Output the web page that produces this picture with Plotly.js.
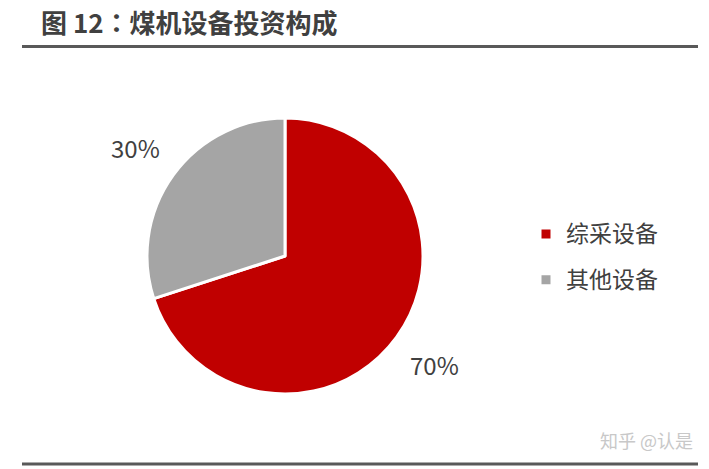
<!DOCTYPE html>
<html>
<head>
<meta charset="utf-8">
<script src="https://cdn.plot.ly/plotly-3.0.1.min.js"></script>
<style>html,body{margin:0;padding:0;background:#fff;}#chart{width:709px;height:469px;}</style>
</head>
<body>
<div id="chart"></div>
<script>
var categories = ["综采设备", "其他设备"];
var shares = [70, 30];
var sliceColors = ["#C00000", "#A5A5A5"];
var titleParts = ["图 12", "：", "煤机设备投资构成"];
var watermark = "知乎 @认是";

var FONT = "'Noto Sans CJK SC', 'Microsoft YaHei', sans-serif";

var legendLabels = categories.map(function (c) {
  return '<span style="font-size:23px;baseline-shift:5px">' + c + '</span>';
});

// pie geometry (paper fractions)
var dom = { x: [147 / 709, 423 / 709], y: [(469 - 394) / 469, (469 - 118) / 469] };

var trace = {
  type: "pie",
  labels: legendLabels,
  values: shares,
  sort: false,
  direction: "clockwise",
  rotation: 0,
  marker: { colors: sliceColors, line: { color: "#ffffff", width: 3 } },
  textinfo: "none",
  domain: dom,
  hoverinfo: "label+percent"
};

// percent labels placed outside each slice along its mid-angle, computed from data
var total = shares.reduce(function (a, b) { return a + b; }, 0);
var cxPx = (dom.x[0] + dom.x[1]) / 2 * 709;
var cyPx = (1 - (dom.y[0] + dom.y[1]) / 2) * 469;
var rPx = Math.min((dom.x[1] - dom.x[0]) * 709, (dom.y[1] - dom.y[0]) * 469) / 2;
var labelAnns = [];
var cum = 0;
shares.forEach(function (v) {
  var mid = (cum + v / 2) / total * 2 * Math.PI; // clockwise from top
  cum += v;
  var d = rPx * 1.34;
  var px = cxPx + d * Math.sin(mid);
  var py = cyPx - d * Math.cos(mid);
  labelAnns.push({
    text: Math.round(v / total * 100) + "%",
    xref: "paper", yref: "paper",
    x: px / 709, y: 1 - py / 469,
    xanchor: "center", yanchor: "middle",
    showarrow: false,
    font: { family: FONT, size: 24, color: "#404040" }
  });
});

var titleHtml = "<b>" + titleParts[0] +
  "<span style=\"font-family:'Noto Sans CJK TC'\">" + titleParts[1] + "</span>" +
  titleParts[2] + "</b>";

var layout = {
  width: 709,
  height: 469,
  margin: { l: 0, r: 0, t: 0, b: 0 },
  paper_bgcolor: "#ffffff",
  plot_bgcolor: "#ffffff",
  font: { family: FONT, color: "#404040" },
  title: {
    text: titleHtml,
    font: { family: FONT, size: 26, color: "#404040" },
    x: 41 / 709, xanchor: "left", xref: "paper",
    y: 1 - 24 / 469, yanchor: "middle", yref: "container"
  },
  showlegend: true,
  legend: {
    x: 526 / 709, xanchor: "left",
    y: 1 - 257 / 469, yanchor: "middle",
    font: { family: FONT, size: 33, color: "#404040" },
    bgcolor: "rgba(0,0,0,0)"
  },
  shapes: [
    { type: "line", xref: "paper", yref: "paper", x0: 22 / 709, x1: 698 / 709, y0: 1 - 46.5 / 469, y1: 1 - 46.5 / 469, line: { color: "#595959", width: 3 } },
    { type: "line", xref: "paper", yref: "paper", x0: 22 / 709, x1: 698 / 709, y0: 1 - 464 / 469, y1: 1 - 464 / 469, line: { color: "#595959", width: 3 } }
  ],
  annotations: labelAnns.concat([
    { text: watermark, xref: "paper", yref: "paper", x: 695 / 709, y: 1 - 440 / 469, xanchor: "right", yanchor: "middle", showarrow: false, font: { family: FONT, size: 18, color: "#c8c8c8" } }
  ])
};

Plotly.newPlot("chart", [trace], layout, { displayModeBar: false, staticPlot: true });
</script>
</body>
</html>
